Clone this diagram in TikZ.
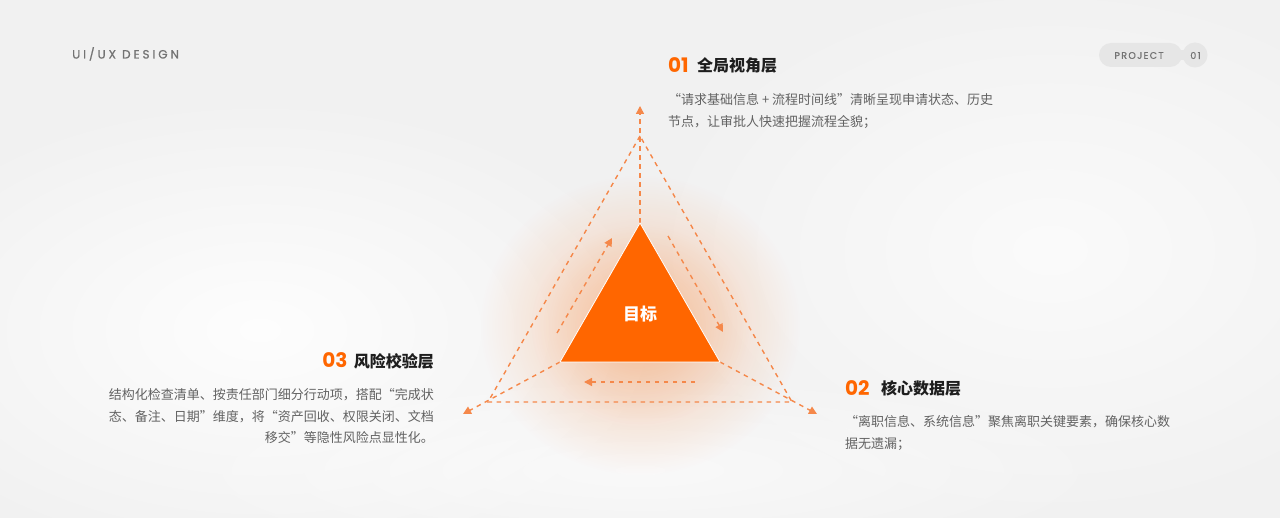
\documentclass[tikz,border=0pt]{standalone}
\usepackage{fontspec}
\setmainfont{Noto Sans CJK SC}
\newfontfamily\cjk{Noto Sans CJK SC}
\newfontfamily\numfont{Poppins}
\newfontfamily\hdfont{Poppins}[LetterSpace=24,FakeBold=0.8]
\newfontfamily\pjfont{Poppins}[LetterSpace=14,FakeBold=0.8]
\usetikzlibrary{arrows.meta,fadings}
\definecolor{bgc}{HTML}{F1F1F1}
\definecolor{mainor}{HTML}{FF6600}
\definecolor{dashc}{HTML}{F5884A}
\definecolor{bodyc}{HTML}{626262}
\definecolor{titlec}{HTML}{1E1E1E}
\definecolor{hdc}{HTML}{737373}
\definecolor{pillc}{HTML}{E6E6E6}
\tikzfading[name=glowfade, inner color=transparent!0, outer color=transparent!100]
\tikzset{
  dline/.style={draw=dashc, line width=1.4pt, dash pattern=on 4.5pt off 4.5pt},
  arr/.style={-{Triangle[length=8pt,width=8pt]}},
  numtxt/.style={font=\numfont\bfseries\fontsize{20}{22}\selectfont, text=mainor, inner sep=0pt},
  ttltxt/.style={font=\cjk\bfseries\fontsize{16}{18}\selectfont, text=titlec, inner sep=0pt},
  bodytxt/.style={font=\cjk\fontsize{13}{21.5}\selectfont, text=bodyc, inner sep=0pt},
}
\begin{document}
\begin{tikzpicture}[x=1pt,y=-1pt]
\useasboundingbox (0,0) rectangle (1280,518);
\fill[bgc] (0,0) rectangle (1280,518);
% soft background light
\fill[white, opacity=0.9, path fading=glowfade] (260,330) ellipse (420pt and 240pt);
\fill[white, opacity=0.7, path fading=glowfade] (1050,250) ellipse (420pt and 280pt);
\fill[white, opacity=0.6, path fading=glowfade] (640,470) ellipse (500pt and 100pt);
% glow
\fill[mainor, opacity=0.3, path fading=glowfade] (640,325) ellipse (160pt and 150pt);
\fill[mainor, opacity=0.15, path fading=glowfade] (640,325) ellipse (110pt and 100pt);

% coordinates
\coordinate (ta) at (640,223);
\coordinate (tl) at (560,362);
\coordinate (tr) at (720,362);
\coordinate (oa) at (640,136);
\coordinate (ol) at (488,402);
\coordinate (or) at (792,402);
\coordinate (at) at (640,106);
\coordinate (al) at (463,414);
\coordinate (ar) at (817,414);
\coordinate (l1) at (557,333);
\coordinate (l2) at (612,238);
\coordinate (r1) at (668,236);
\coordinate (r2) at (723,332);
\coordinate (b1) at (695,382);
\coordinate (b2) at (584,382);

% outer dashed triangle
\draw[dline] (oa) -- (ol) -- (or) -- cycle;
% rays
\draw[dline, arr] (ta) -- (at);
\draw[dline, arr] (tl) -- (al);
\draw[dline, arr] (tr) -- (ar);
% inner arrows
\draw[dline, arr] (l1) -- (l2);
\draw[dline, arr] (r1) -- (r2);
\draw[dline, arr] (b1) -- (b2);

% main triangle
\fill[mainor, draw=white, line width=0.8pt] (ta) -- (tl) -- (tr) -- cycle;
\node[font=\cjk\bfseries\fontsize{17}{19}\selectfont, text=white] (goal) at (640,314) {目标};

% header
\node[font=\hdfont\fontsize{12}{14}\selectfont, text=hdc, anchor=base west, inner sep=0pt] (hd) at (72,58.5) {UI/UX DESIGN};
\fill[pillc, rounded corners=12pt] (1099,43) rectangle (1182,67);
\fill[pillc] (1176,50) rectangle (1188,60);
\fill[pillc] (1195,55) circle (12.5pt);
\node[font=\pjfont\fontsize{9.5}{11}\selectfont, text=hdc] (pj) at (1139,55.5) {PROJECT};
\node[font=\pjfont\fontsize{9.5}{11}\selectfont, text=hdc] (pn) at (1195.5,55.5) {01};

% 01
\node[numtxt, anchor=base west] (n1) at (668,73) {01};
\node[ttltxt, anchor=base west] (t1) at (697,72) {全局视角层};
\node[bodytxt, anchor=north west, align=left] (d1) at (668,93.5) {“请求基础信息 + 流程时间线”清晰呈现申请状态、历史\\节点，让审批人快速把握流程全貌；};

% 02
\node[numtxt, anchor=base west] (n2) at (845,396) {02};
\node[ttltxt, anchor=base west] (t2) at (881,395) {核心数据层};
\node[bodytxt, anchor=north west, align=left] (d2) at (845,415.5) {“离职信息、系统信息”聚焦离职关键要素，确保核心数\\据无遗漏；};

% 03
\node[ttltxt, anchor=base east] (t3) at (434,368) {风险校验层};
\node[numtxt, anchor=base east] (n3) at ([xshift=-6pt]t3.base west) {03};
\node[bodytxt, anchor=north east, align=right] (d3) at (434,388.5) {结构化检查清单、按责任部门细分行动项，搭配“完成状\\态、备注、日期”维度，将“资产回收、权限关闭、文档\\移交”等隐性风险点显性化。};
\end{tikzpicture}
\end{document}
